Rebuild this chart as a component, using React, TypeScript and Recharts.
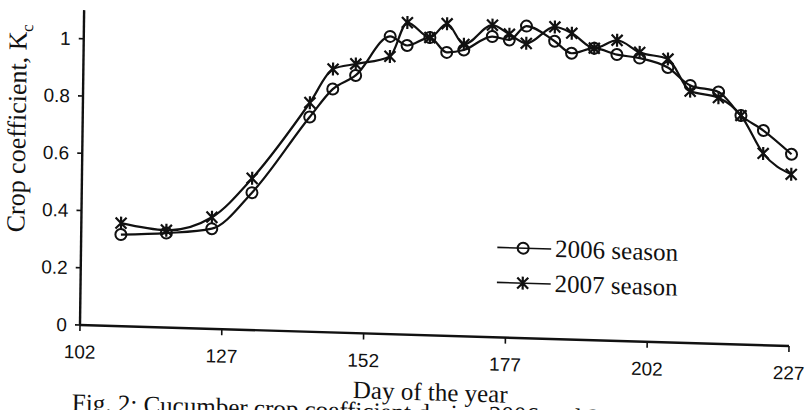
import { LineChart, Line, XAxis, YAxis } from 'recharts';

const days = [109, 117, 125, 132, 142, 146, 150, 156, 159, 163, 166, 169, 174, 177, 180, 185, 188, 192, 196, 200, 205, 209, 214, 218, 222, 227];
const kc2006 = [0.32, 0.33, 0.35, 0.48, 0.75, 0.85, 0.9, 1.04, 1.01, 1.04, 0.99, 1.0, 1.05, 1.04, 1.09, 1.04, 1.0, 1.02, 1.0, 0.99, 0.96, 0.9, 0.88, 0.8, 0.75, 0.67];
const kc2007 = [0.36, 0.34, 0.39, 0.53, 0.8, 0.92, 0.94, 0.97, 1.09, 1.04, 1.09, 1.02, 1.09, 1.06, 1.03, 1.09, 1.07, 1.02, 1.05, 1.01, 0.99, 0.88, 0.86, 0.8, 0.67, 0.6];
const xTicks = [102, 127, 152, 177, 202, 227];
const yTicks = [0, 0.2, 0.4, 0.6, 0.8, 1];
const seriesNames = ['2006 season', '2007 season'];

const INK = '#111';
const SANS = '"Liberation Sans", Arial, sans-serif';
const SERIF = '"Liberation Serif", "Times New Roman", serif';

const data = days.map((day, i) => ({ day, s2006: kc2006[i], s2007: kc2007[i] }));

function Ring(props: any) {
  const { cx, cy, index } = props;
  if (cx == null || cy == null) return null;
  return <circle key={`r${index}`} cx={cx} cy={cy} r={5.5} fill="none" stroke={INK} strokeWidth={2} />;
}

function Star(props: any) {
  const { cx, cy, index } = props;
  if (cx == null || cy == null) return null;
  const s = 5.5;
  const d = `M${cx - s},${cy - s}L${cx + s},${cy + s}M${cx - s},${cy + s}L${cx + s},${cy - s}M${cx},${cy - s - 1}L${cx},${cy + s + 1}`;
  return <path key={`s${index}`} d={d} fill="none" stroke={INK} strokeWidth={2.2} />;
}

function LegendRow({ label, marker }: { label: string; marker: 'ring' | 'star' }) {
  return (
    <div style={{ display: 'flex', alignItems: 'center', height: 35 }}>
      <svg width={56} height={20}>
        <line x1={0} y1={10} x2={54} y2={10} stroke={INK} strokeWidth={1.6} />
        {marker === 'ring' ? <Ring cx={26} cy={10} /> : <Star cx={26} cy={10} />}
      </svg>
      <span style={{ fontFamily: SERIF, fontSize: 25, color: INK, marginLeft: 2 }}>{label}</span>
    </div>
  );
}

export default function App() {
  return (
    <div style={{ position: 'fixed', left: 0, top: 0, width: 806, height: 410, overflow: 'hidden', background: '#fff' }}>
      {/* the scan is slightly skewed, so the whole figure is too */}
      <div
        style={{
          position: 'absolute',
          left: 0,
          top: 0,
          width: 806,
          height: 410,
          transformOrigin: '80px 325px',
          transform: 'skewY(1.7deg) skewX(-0.75deg)',
        }}
      >
        <LineChart width={806} height={410} data={data} margin={{ top: 10, right: 17, bottom: 55, left: 0 }}>
          <XAxis
            type="number"
            dataKey="day"
            domain={[102, 227]}
            ticks={xTicks}
            tickSize={6}
            tickMargin={14}
            height={30}
            axisLine={{ stroke: INK, strokeWidth: 2.4 }}
            tickLine={{ stroke: INK, strokeWidth: 1.6 }}
            tick={{ fill: INK, fontSize: 19, fontFamily: SANS }}
          />
          <YAxis
            type="number"
            domain={[0, 1.1]}
            ticks={yTicks}
            width={80}
            tickSize={5}
            tickMargin={8}
            tickFormatter={(v: number) => String(Math.round(v * 10) / 10)}
            axisLine={{ stroke: INK, strokeWidth: 2.4 }}
            tickLine={{ stroke: INK, strokeWidth: 1.6 }}
            tick={{ fill: INK, fontSize: 19, fontFamily: SANS }}
          />
          <Line
            type="monotone"
            dataKey="s2006"
            name={seriesNames[0]}
            stroke={INK}
            strokeWidth={2.2}
            dot={Ring}
            activeDot={false}
            isAnimationActive={false}
          />
          <Line
            type="monotone"
            dataKey="s2007"
            name={seriesNames[1]}
            stroke={INK}
            strokeWidth={2.2}
            dot={Star}
            activeDot={false}
            isAnimationActive={false}
          />
        </LineChart>

        <div style={{ position: 'absolute', left: 496, top: 217 }}>
          <LegendRow label={seriesNames[0]} marker="ring" />
          <LegendRow label={seriesNames[1]} marker="star" />
        </div>

        <div
          style={{
            position: 'absolute',
            left: 15 - 150,
            top: 130 - 15,
            width: 300,
            height: 30,
            lineHeight: '30px',
            textAlign: 'center',
            transform: 'rotate(-90deg)',
            fontFamily: SERIF,
            fontSize: 26,
            color: INK,
            whiteSpace: 'nowrap',
          }}
        >
          Crop coefficient, K<sub style={{ fontSize: 17 }}>c</sub>
        </div>

        <div
          style={{
            position: 'absolute',
            left: 73,
            top: 388,
            lineHeight: '30px',
            fontFamily: SERIF,
            fontSize: 25,
            color: INK,
            whiteSpace: 'nowrap',
          }}
        >
          Fig. 2: Cucumber crop coefficient during 2006 and 2007 seasons
        </div>

        <div
          style={{
            position: 'absolute',
            left: 431 - 150,
            top: 367,
            width: 300,
            lineHeight: '30px',
            textAlign: 'center',
            fontFamily: SERIF,
            fontSize: 25,
            color: INK,
            whiteSpace: 'nowrap',
          }}
        >
          Day of the year
        </div>
      </div>
    </div>
  );
}
